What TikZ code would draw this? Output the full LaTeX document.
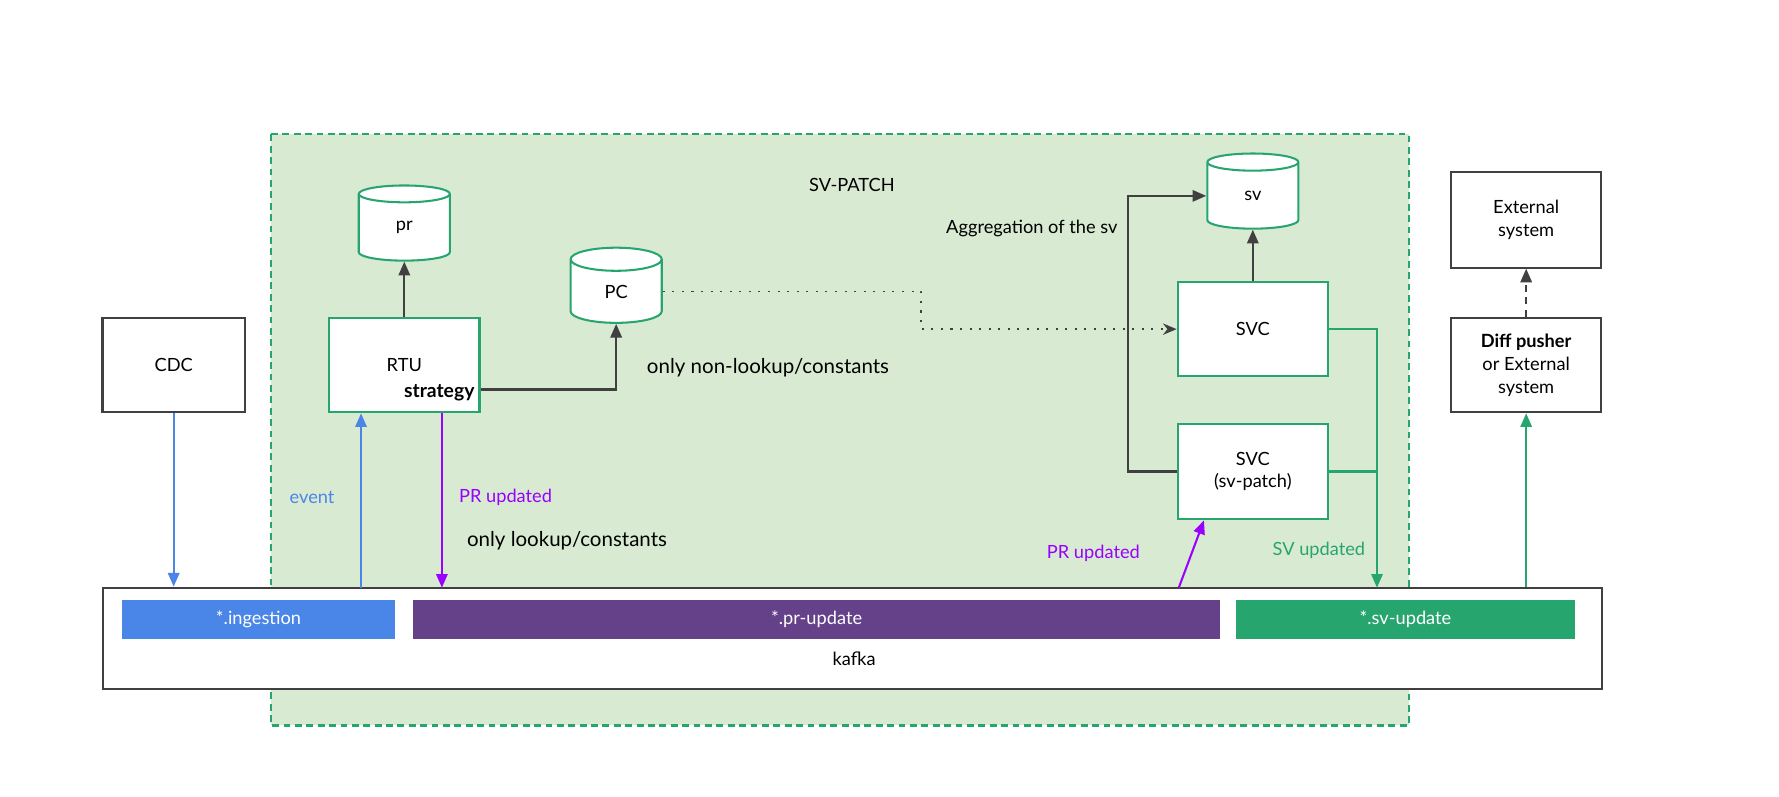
\documentclass[tikz,border=0pt]{standalone}
\usepackage{fontspec}
\setmainfont{Lato}
\usetikzlibrary{shapes.geometric,arrows.meta,calc}
\definecolor{gfill}{HTML}{D9EAD3}
\definecolor{gline}{HTML}{27A56F}
\definecolor{dk}{HTML}{404040}
\definecolor{bl}{HTML}{4A86E8}
\definecolor{pu}{HTML}{9900FF}
\definecolor{pubar}{HTML}{65418A}
\begin{document}
\begin{tikzpicture}[x=0.5pt,y=-0.5pt,
  txt/.style={font=\fontsize{8}{10}\selectfont},
  bigtxt/.style={font=\fontsize{9}{11}\selectfont},
  gbox/.style={draw=gline, fill=white, line width=0.9pt, minimum width=66pt, minimum height=41.5pt, inner sep=0pt, align=center, txt},
  kbox/.style={draw=dk, fill=white, line width=0.9pt, minimum width=66pt, minimum height=41.5pt, inner sep=0pt, align=center, txt},
  db/.style={cylinder, shape border rotate=90, aspect=1.0, draw=gline, fill=white, line width=0.9pt, minimum width=40pt, minimum height=33pt, inner sep=0pt, txt},
  tip/.style={-{Triangle[length=6pt,width=5pt]}},
  arr/.style={draw=dk, line width=0.9pt, tip},
  garr/.style={draw=gline, line width=0.9pt, tip},
  barr/.style={draw=bl, line width=0.9pt, tip},
  parr/.style={draw=pu, line width=0.9pt, tip},
  bar/.style={minimum height=17pt, inner sep=0pt, text=white, txt}
]
\fill[white] (0,0) rectangle (1562,699);
\useasboundingbox (0,0) rectangle (1562,699);

% SV-PATCH region
\draw[draw=gline, fill=gfill, line width=0.9pt, dash pattern=on 3pt off 2pt] (238,118) rectangle (1237,637);
\node[txt] (title) at (748,162) {SV-PATCH};

% kafka
\node[kbox, minimum width=658pt, minimum height=44.5pt] (kafka) at (748.5,560.5) {};
\node[txt] (kafkalbl) at (750,578) {kafka};
\node[bar, fill=bl, minimum width=120pt] (ing) at (227,544) {*.ingestion};
\node[bar, fill=pubar, minimum width=354pt] (pru) at (717,544) {*.pr-update};
\node[bar, fill=gline, minimum width=149pt] (svu) at (1234,544) {*.sv-update};

% nodes
\node[kbox, minimum width=62.5pt] (CDC) at (152.5,320.5) {CDC};
\node[gbox] (RTU) at (355,320.5) {RTU};
\node[font=\fontsize{8.5}{10}\selectfont\bfseries, anchor=base east, inner sep=0pt] (strat) at (417,349) {strategy};
\node[db] (pr) at (355,200) {pr};
\node[db] (PC) at (541,256) {PC};
\node[db] (sv) at (1100,172) {sv};
\node[gbox, minimum height=41pt] (SVC) at (1100,289) {SVC};
\node[gbox, minimum height=42pt] (SVCp) at (1100,414) {SVC\\(sv-patch)};
\node[kbox, minimum height=42pt] (Ext) at (1340,193) {External\\system};
\node[kbox] (Diff) at (1340,320.5) {\textbf{Diff pusher}\\or External\\system};

% labels
\node[txt] (agg) at (906,201) {Aggregation of the sv};
\node[bigtxt, anchor=west] (nonlk) at (561,323) {only non-lookup/constants};
\node[bigtxt, anchor=west] (lk) at (403,475) {only lookup/constants};
\node[txt, text=bl] (ev) at (274,437) {event};
\node[txt, text=pu, anchor=west] (pr1) at (396,437) {PR updated};
\node[txt, text=pu] (pr2) at (960,486) {PR updated};
\node[txt, text=gline] (svup) at (1158,483) {SV updated};

% anchor points on kafka top
\coordinate (k1) at (317,516);
\coordinate (k2) at (388,516);
\coordinate (k3) at (1035,516);
\coordinate (k4) at (1209,516);

% connectors
\draw[arr] (RTU.north) -- (pr.south);
\draw[arr] ($(RTU.east)+(0,21.5)$) -| (PC.south);
\draw[draw=dk, line width=0.8pt, dash pattern=on 0.9pt off 3.3pt, -{Stealth[length=6pt,width=5pt]}] (PC.east) -- ++(227,0) |- (SVC.west);
\draw[arr] (SVC.north) -- (sv.south);
\draw[arr] (SVCp.west) -- ++(-43,0) |- (sv.west);
\draw[garr] (SVC.east) -| (k4);
\draw[draw=gline, line width=0.9pt] (SVCp.east) -- (SVCp.east -| k4);
\draw[barr] (CDC.south) -- (CDC.south |- kafka.north);
\draw[barr] (k1) -- (k1 |- RTU.south);
\draw[parr] (k2 |- RTU.south) -- (k2);
\draw[parr] (k3) -- ($(SVCp.south west)+(24,0)$);
\draw[garr] (Diff.south |- kafka.north) -- (Diff.south);
\draw[draw=dk, line width=0.9pt, dash pattern=on 3pt off 2.5pt, -{Triangle[length=6pt,width=5pt]}] (Diff.north) -- (Ext.south);
\end{tikzpicture}
\end{document}
